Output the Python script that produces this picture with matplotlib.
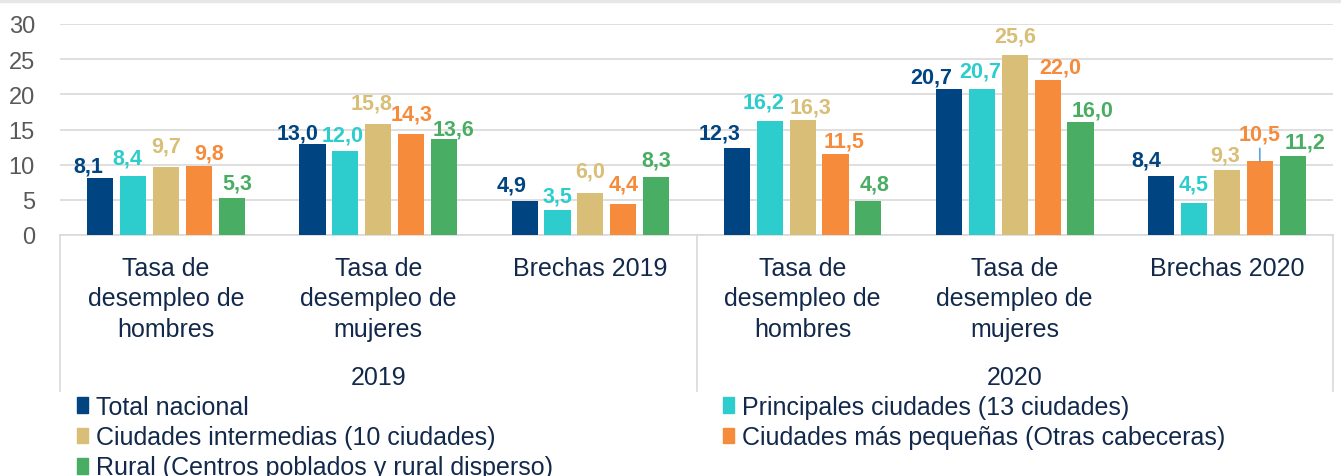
import matplotlib.pyplot as plt
import numpy as np
from matplotlib.patches import Patch, Rectangle
from matplotlib.transforms import blended_transform_factory

plt.rcParams['font.family'] = ['Liberation Sans', 'DejaVu Sans']

# datos
categorias = ['Tasa de\ndesempleo de\nhombres', 'Tasa de\ndesempleo de\nmujeres', 'Brechas 2019',
              'Tasa de\ndesempleo de\nhombres', 'Tasa de\ndesempleo de\nmujeres', 'Brechas 2020']
anios = ['2019', '2020']
series = ['Total nacional', 'Principales ciudades (13 ciudades)', 'Ciudades intermedias (10 ciudades)',
          'Ciudades más pequeñas (Otras cabeceras)', 'Rural (Centros poblados y rural disperso)']
total_nacional = [8.1, 13.0, 4.9, 12.3, 20.7, 8.4]
principales = [8.4, 12.0, 3.5, 16.2, 20.7, 4.5]
intermedias = [9.7, 15.8, 6.0, 16.3, 25.6, 9.3]
pequenas = [9.8, 14.3, 4.4, 11.5, 22.0, 10.5]
rural = [5.3, 13.6, 8.3, 4.8, 16.0, 11.2]

valores = [total_nacional, principales, intermedias, pequenas, rural]
colores = ['#004481', '#2ECDCD', '#D8BE76', '#F68B3B', '#49AE64']
texto = '#13294B'

# ajustes de posición de las etiquetas (px): desplazamiento horizontal y separación sobre la barra
etq_dx = [[-12, -15, -13, -17, -18, -15],
          [-6, -3, 0, -6, -2, 0],
          [0, -7, 0, 8, 0, -2],
          [10, 0, 0, 9, 13, 0],
          [5, 9, 0, 6, 12, 12]]
etq_dy = [[7, 5, 10, 10, 7, 10],
          [12, 10, 9, 14, 13, 14],
          [15, 15, 16, 8, 13, 9],
          [8, 15, 15, 8, 8, 22],
          [9, 5, 11, 12, 7, 9]]

W, H = 1341, 477
fig = plt.figure(figsize=(W / 100, H / 100), dpi=100)
fig.patches.append(Rectangle((0, 1 - 3 / H), 1, 3 / H, transform=fig.transFigure,
                             color='#E6E6E6', zorder=0))

ax = fig.add_axes([60 / W, 1 - 236 / H, 1273 / W, 211 / H])
x = np.arange(len(categorias))
paso, ancho = 0.155, 0.123

for i, (vals, col) in enumerate(zip(valores, colores)):
    xs = x + (i - 2) * paso
    ax.bar(xs, vals, width=ancho, color=col, zorder=3)
    for k, (xi, v) in enumerate(zip(xs, vals)):
        etiqueta = f'{v:.1f}'.replace('.', ',')
        dx, dy = etq_dx[i][k], etq_dy[i][k]
        if dy > 20:
            # etiqueta separada con línea guía
            ax.annotate(etiqueta, (xi, v), xytext=(dx, dy), textcoords='offset pixels',
                        ha='center', va='baseline', color=col, fontsize=15.5, fontweight='bold',
                        arrowprops=dict(arrowstyle='-', color='#5BA4E6', lw=1.2,
                                        shrinkA=1, shrinkB=0))
        else:
            ax.annotate(etiqueta, (xi, v), xytext=(dx, dy), textcoords='offset pixels',
                        ha='center', va='baseline', color=col, fontsize=15.5, fontweight='bold')

ax.set_xlim(-0.5, 5.5)
ax.set_ylim(0, 30)
ax.set_yticks(range(0, 31, 5))
ax.tick_params(axis='y', length=0, labelsize=17, labelcolor='#595959', pad=18)
ax.set_xticks([])
ax.grid(axis='y', color='#D9D9D9', lw=1.2, zorder=0)
for s in ['top', 'right', 'left']:
    ax.spines[s].set_visible(False)
ax.spines['bottom'].set_color('#D9D9D9')
ax.spines['bottom'].set_linewidth(1.2)

# eje de categorías en dos niveles
tr = blended_transform_factory(ax.transData, fig.transFigure)
for xi, cat in zip(x, categorias):
    ax.text(xi, 1 - 257 / H, cat, transform=tr, ha='center', va='top',
            fontsize=18, color=texto, linespacing=1.33)
for j, anio in enumerate(anios):
    ax.text(j * 3 + 1, 1 - 366 / H, anio, transform=tr, ha='center', va='top',
            fontsize=18, color=texto)
for xs in [-0.5, 2.5, 5.5]:
    ax.plot([xs, xs], [1 - 236 / H, 1 - 392 / H], transform=tr, color='#D9D9D9',
            lw=1.2, clip_on=False)

# leyenda
handles = [Patch(color=c, label=s) for c, s in zip(colores, series)]
kw = dict(frameon=False, fontsize=18, labelcolor=texto, handlelength=0.45, handleheight=0.6,
          handletextpad=0.3, labelspacing=0.25, borderaxespad=0, borderpad=0)
leg1 = fig.legend(handles=[handles[0], handles[2], handles[4]], loc='upper left',
                  bbox_to_anchor=(77 / W, 1 - 396 / H), **kw)
leg2 = fig.legend(handles=[handles[1], handles[3]], loc='upper left',
                  bbox_to_anchor=(723 / W, 1 - 396 / H), **kw)

fig.savefig('out.png', dpi=100)
